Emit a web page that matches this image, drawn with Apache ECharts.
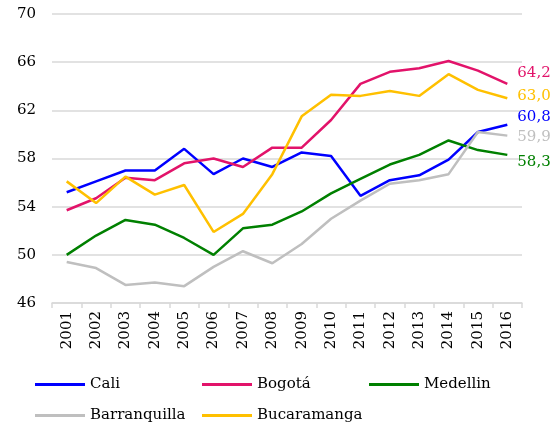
<!DOCTYPE html>
<html>
<head>
<meta charset="utf-8">
<script src="https://cdn.jsdelivr.net/npm/echarts@6/dist/echarts.min.js"></script>
<style>
  html, body { margin: 0; padding: 0; background: #fff; }
  #chart { width: 557px; height: 427px; }
</style>
</head>
<body>
<div id="chart"></div>
<script>
const years = ['2001', '2002', '2003', '2004', '2005', '2006', '2007', '2008',
  '2009', '2010', '2011', '2012', '2013', '2014', '2015', '2016']
const yTicks = [46, 50, 54, 58, 62, 66, 70]

const cali = [55.2, 56.1, 57.0, 57.0, 58.8, 56.7, 58.0, 57.3, 58.5, 58.2, 54.9, 56.2, 56.6, 57.9, 60.2, 60.8]
const bogota = [53.7, 54.7, 56.4, 56.2, 57.6, 58.0, 57.3, 58.9, 58.9, 61.2, 64.2, 65.2, 65.5, 66.1, 65.3, 64.2]
const medellin = [50.0, 51.6, 52.9, 52.5, 51.4, 50.0, 52.2, 52.5, 53.6, 55.1, 56.3, 57.5, 58.3, 59.5, 58.7, 58.3]
const barranquilla = [49.4, 48.9, 47.5, 47.7, 47.4, 49.0, 50.3, 49.3, 50.9, 53.0, 54.5, 55.9, 56.2, 56.7, 60.2, 59.9]
const bucaramanga = [56.1, 54.3, 56.5, 55.0, 55.8, 51.9, 53.4, 56.7, 61.5, 63.3, 63.2, 63.6, 63.2, 65.0, 63.7, 63.0]

const font = 'DejaVu Serif'

// name, data, colour, vertical nudge of the end label
const lines = [
  ['Cali', cali, '#0000ff', -8],
  ['Bogotá', bogota, '#e2136a', -11],
  ['Medellin', medellin, '#008000', 7],
  ['Barranquilla', barranquilla, '#bfbfbf', 1],
  ['Bucaramanga', bucaramanga, '#ffc000', -2]
]

const chart = echarts.init(document.getElementById('chart'))

chart.setOption({
  animation: false,
  textStyle: { fontFamily: font },
  grid: { left: 52, right: 35, top: 14, bottom: 124 },
  legend: {
    left: 30,
    top: 370,
    width: 520,
    itemWidth: 50,
    itemHeight: 3,
    itemGap: 12,
    icon: 'rect',
    data: lines.map(l => l[0]),
    textStyle: {
      fontFamily: font,
      fontSize: 15,
      color: '#000',
      width: 100,
      lineHeight: 19,
      padding: [0, 0, 0, 0]
    }
  },
  xAxis: {
    type: 'category',
    data: years,
    boundaryGap: true,
    axisLine: { lineStyle: { color: '#d9d9d9', width: 1.5 } },
    axisTick: { show: true, length: 5, lineStyle: { color: '#d9d9d9', width: 1.5 } },
    axisLabel: {
      rotate: 90,
      margin: 8,
      fontFamily: font,
      fontSize: 15,
      color: '#000'
    }
  },
  yAxis: {
    type: 'value',
    min: yTicks[0],
    max: yTicks[yTicks.length - 1],
    interval: 4,
    axisLine: { show: false },
    axisTick: { show: false },
    splitLine: { lineStyle: { color: '#d9d9d9', width: 1.5 } },
    axisLabel: {
      margin: 16,
      fontFamily: font,
      fontSize: 15,
      color: '#000'
    }
  },
  series: lines.map(([name, data, color, dy]) => ({
    name,
    type: 'line',
    data,
    color,
    showSymbol: false,
    symbol: 'none',
    lineStyle: { width: 2.5, color },
    itemStyle: { color },
    endLabel: {
      show: true,
      distance: 10,
      offset: [0, dy],
      color,
      fontFamily: font,
      fontSize: 15,
      formatter: p => p.value.toFixed(1).replace('.', ',')
    }
  }))
})
</script>
</body>
</html>
